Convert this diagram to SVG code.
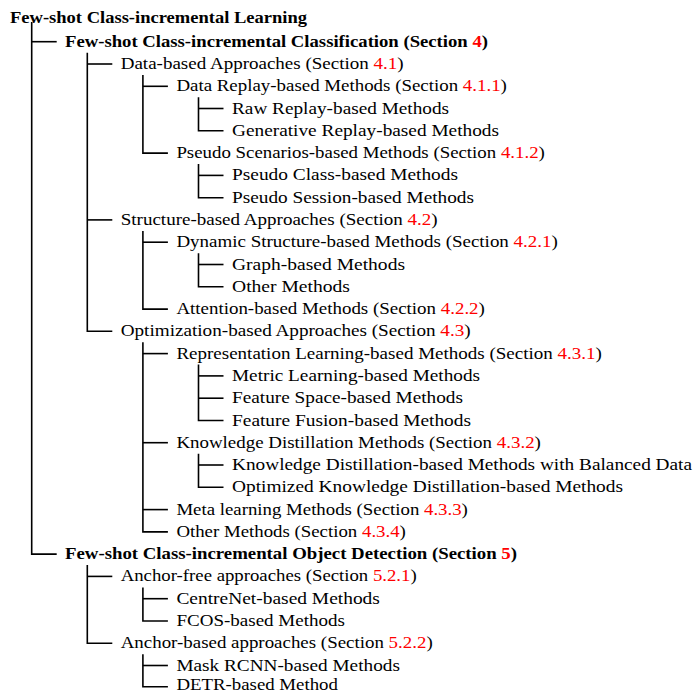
<svg xmlns="http://www.w3.org/2000/svg" width="694" height="694" viewBox="0 0 694 694">
<style>
text{font-family:"Liberation Serif","Times New Roman",serif;font-size:17px;fill:#000}
.b{font-weight:bold}
.r{fill:#ff0000}
.c path{fill:none;stroke:#000;stroke-width:1.6;stroke-linejoin:miter;stroke-linecap:butt}
</style>
<rect width="694" height="694" fill="#fff"/>
<g class="c" id="connectors">
<path d="M31.7,22 V554.1 H56.7"/>
<path d="M31.7,41.7 H56.7"/>
<path d="M87.3,52.7 V331.3 H112.3"/>
<path d="M87.3,64 H112.3"/>
<path d="M87.3,219.9 H112.3"/>
<path d="M142.9,75 V153.1 H167.9"/>
<path d="M142.9,86.3 H167.9"/>
<path d="M198.5,97.3 V130.8 H223.5"/>
<path d="M198.5,108.5 H223.5"/>
<path d="M198.5,164.1 V197.7 H223.5"/>
<path d="M198.5,175.4 H223.5"/>
<path d="M142.9,230.9 V309.1 H167.9"/>
<path d="M142.9,242.2 H167.9"/>
<path d="M198.5,253.2 V286.8 H223.5"/>
<path d="M198.5,264.5 H223.5"/>
<path d="M142.9,342.3 V531.9 H167.9"/>
<path d="M142.9,353.6 H167.9"/>
<path d="M142.9,442.7 H167.9"/>
<path d="M142.9,509.6 H167.9"/>
<path d="M198.5,364.6 V420.5 H223.5"/>
<path d="M198.5,375.9 H223.5"/>
<path d="M198.5,398.2 H223.5"/>
<path d="M198.5,453.7 V487.3 H223.5"/>
<path d="M198.5,465 H223.5"/>
<path d="M87.3,565.1 V643.3 H112.3"/>
<path d="M87.3,576.4 H112.3"/>
<path d="M142.9,587.4 V621 H167.9"/>
<path d="M142.9,598.7 H167.9"/>
<path d="M142.9,654.3 V686.8 H167.9"/>
<path d="M142.9,665.5 H167.9"/>
</g>
<g id="n0"><text class="b" x="10" y="23" textLength="297" lengthAdjust="spacingAndGlyphs">Few-shot Class-incremental Learning</text></g>
<g id="n1"><text class="b" x="65" y="46.7" textLength="423" lengthAdjust="spacingAndGlyphs">Few-shot Class-incremental Classification (Section <tspan class="r">4</tspan>)</text></g>
<g id="n2"><text x="120.7" y="69" textLength="283" lengthAdjust="spacingAndGlyphs">Data-based Approaches (Section <tspan class="r">4.1</tspan>)</text></g>
<g id="n3"><text x="176.4" y="91.3" textLength="330.5" lengthAdjust="spacingAndGlyphs">Data Replay-based Methods (Section <tspan class="r">4.1.1</tspan>)</text></g>
<g id="n4"><text x="232" y="113.5" textLength="217" lengthAdjust="spacingAndGlyphs">Raw Replay-based Methods</text></g>
<g id="n5"><text x="232" y="135.8" textLength="267" lengthAdjust="spacingAndGlyphs">Generative Replay-based Methods</text></g>
<g id="n6"><text x="176.4" y="158.1" textLength="368.5" lengthAdjust="spacingAndGlyphs">Pseudo Scenarios-based Methods (Section <tspan class="r">4.1.2</tspan>)</text></g>
<g id="n7"><text x="232" y="180.4" textLength="226" lengthAdjust="spacingAndGlyphs">Pseudo Class-based Methods</text></g>
<g id="n8"><text x="232" y="202.7" textLength="242" lengthAdjust="spacingAndGlyphs">Pseudo Session-based Methods</text></g>
<g id="n9"><text x="120.7" y="224.9" textLength="317" lengthAdjust="spacingAndGlyphs">Structure-based Approaches (Section <tspan class="r">4.2</tspan>)</text></g>
<g id="n10"><text x="176.4" y="247.2" textLength="381.5" lengthAdjust="spacingAndGlyphs">Dynamic Structure-based Methods (Section <tspan class="r">4.2.1</tspan>)</text></g>
<g id="n11"><text x="232" y="269.5" textLength="173" lengthAdjust="spacingAndGlyphs">Graph-based Methods</text></g>
<g id="n12"><text x="232" y="291.8" textLength="118" lengthAdjust="spacingAndGlyphs">Other Methods</text></g>
<g id="n13"><text x="176.4" y="314.1" textLength="308.5" lengthAdjust="spacingAndGlyphs">Attention-based Methods (Section <tspan class="r">4.2.2</tspan>)</text></g>
<g id="n14"><text x="120.7" y="336.3" textLength="350" lengthAdjust="spacingAndGlyphs">Optimization-based Approaches (Section <tspan class="r">4.3</tspan>)</text></g>
<g id="n15"><text x="176.4" y="358.6" textLength="425.5" lengthAdjust="spacingAndGlyphs">Representation Learning-based Methods (Section <tspan class="r">4.3.1</tspan>)</text></g>
<g id="n16"><text x="232" y="380.9" textLength="248" lengthAdjust="spacingAndGlyphs">Metric Learning-based Methods</text></g>
<g id="n17"><text x="232" y="403.2" textLength="231" lengthAdjust="spacingAndGlyphs">Feature Space-based Methods</text></g>
<g id="n18"><text x="232" y="425.5" textLength="239" lengthAdjust="spacingAndGlyphs">Feature Fusion-based Methods</text></g>
<g id="n19"><text x="176.4" y="447.7" textLength="364.5" lengthAdjust="spacingAndGlyphs">Knowledge Distillation Methods (Section <tspan class="r">4.3.2</tspan>)</text></g>
<g id="n20"><text x="232" y="470" textLength="460" lengthAdjust="spacingAndGlyphs">Knowledge Distillation-based Methods with Balanced Data</text></g>
<g id="n21"><text x="232" y="492.3" textLength="391" lengthAdjust="spacingAndGlyphs">Optimized Knowledge Distillation-based Methods</text></g>
<g id="n22"><text x="176.4" y="514.6" textLength="291.5" lengthAdjust="spacingAndGlyphs">Meta learning Methods (Section <tspan class="r">4.3.3</tspan>)</text></g>
<g id="n23"><text x="176.4" y="536.9" textLength="229.5" lengthAdjust="spacingAndGlyphs">Other Methods (Section <tspan class="r">4.3.4</tspan>)</text></g>
<g id="n24"><text class="b" x="65" y="559.1" textLength="452" lengthAdjust="spacingAndGlyphs">Few-shot Class-incremental Object Detection (Section <tspan class="r">5</tspan>)</text></g>
<g id="n25"><text x="120.7" y="581.4" textLength="296" lengthAdjust="spacingAndGlyphs">Anchor-free approaches (Section <tspan class="r">5.2.1</tspan>)</text></g>
<g id="n26"><text x="176.4" y="603.7" textLength="203.5" lengthAdjust="spacingAndGlyphs">CentreNet-based Methods</text></g>
<g id="n27"><text x="176.4" y="626" textLength="168.5" lengthAdjust="spacingAndGlyphs">FCOS-based Methods</text></g>
<g id="n28"><text x="120.7" y="648.3" textLength="312" lengthAdjust="spacingAndGlyphs">Anchor-based approaches (Section <tspan class="r">5.2.2</tspan>)</text></g>
<g id="n29"><text x="176.4" y="670.5" textLength="223.5" lengthAdjust="spacingAndGlyphs">Mask RCNN-based Methods</text></g>
<g id="n30"><text x="176.4" y="690" textLength="161.5" lengthAdjust="spacingAndGlyphs">DETR-based Method</text></g>
</svg>
